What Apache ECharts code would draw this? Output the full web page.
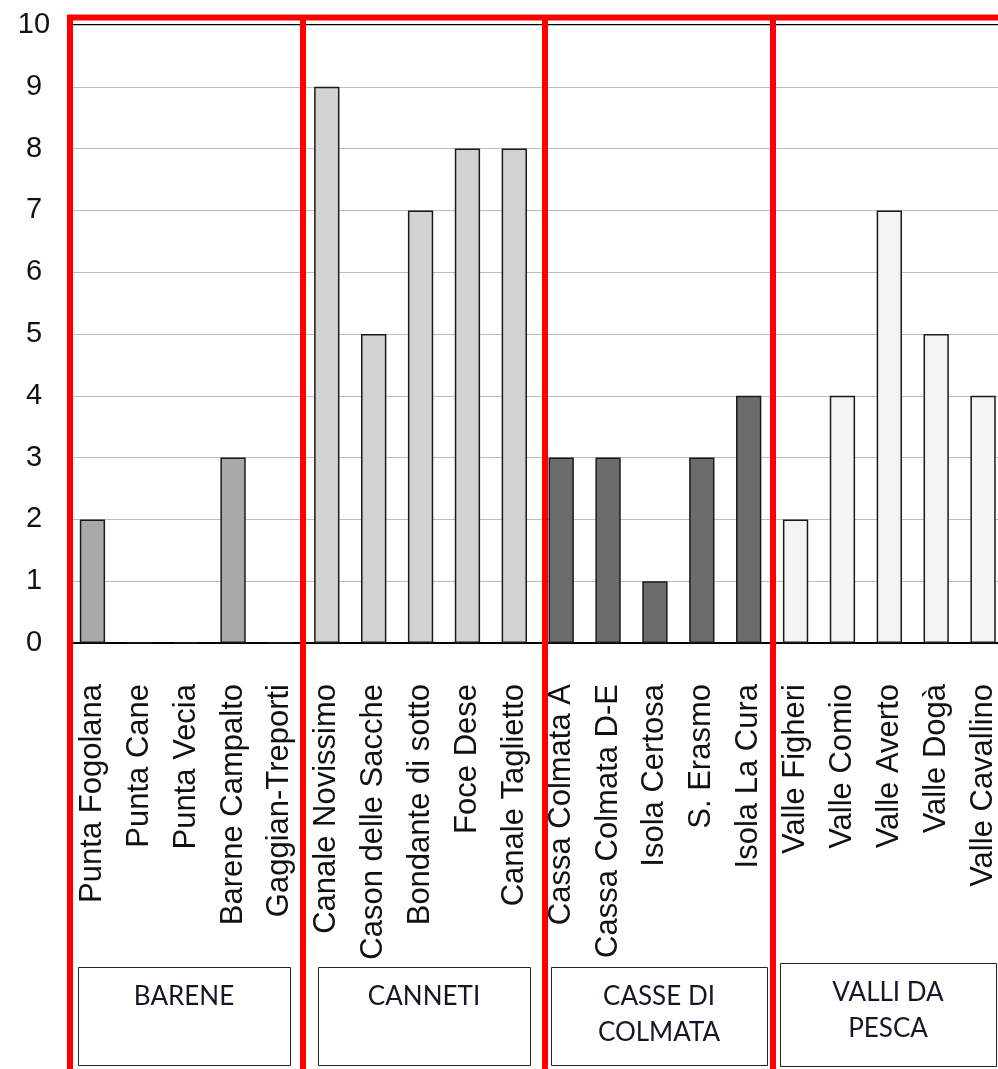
<!DOCTYPE html>
<html>
<head>
<meta charset="utf-8">
<script src="https://cdn.jsdelivr.net/npm/echarts/dist/echarts.min.js"></script>
<style>
html,body{margin:0;padding:0;background:#fff;}
#main{width:998px;height:1069px;}
</style>
</head>
<body>
<div id="main"></div>
<script>
// categorie (siti) per gruppo
var bareneSites = ['Punta Fogolana', 'Punta Cane', 'Punta Vecia', 'Barene Campalto', 'Gaggian-Treporti'];
var cannetiSites = ['Canale Novissimo', 'Cason delle Sacche', 'Bondante di sotto', 'Foce Dese', 'Canale Taglietto'];
var casseSites = ['Cassa Colmata A', 'Cassa Colmata D-E', 'Isola Certosa', 'S. Erasmo', 'Isola La Cura'];
var valliSites = ['Valle Figheri', 'Valle Comio', 'Valle Averto', 'Valle Dogà', 'Valle Cavallino'];

// valori
var bareneValues = [2, 0, 0, 3, 0];
var cannetiValues = [9, 5, 7, 8, 8];
var casseValues = [3, 3, 1, 3, 4];
var valliValues = [2, 4, 7, 5, 4];

var groupNames = ['BARENE', 'CANNETI', 'CASSE DI\nCOLMATA', 'VALLI DA\nPESCA'];
var yTicks = [0, 1, 2, 3, 4, 5, 6, 7, 8, 9, 10];

var groupColors = ['#a9a9a9', '#d2d2d2', '#6c6c6c', '#f4f4f4'];
var groups = [
  [bareneSites, bareneValues],
  [cannetiSites, cannetiValues],
  [casseSites, casseValues],
  [valliSites, valliValues]
];

var categories = [];
var barData = [];
groups.forEach(function (g, gi) {
  g[0].forEach(function (name, i) {
    categories.push(name);
    barData.push({
      value: g[1][i],
      itemStyle: { color: groupColors[gi] }
    });
  });
});

// riquadri dei gruppi e linee rosse (annotazioni)
var boxes = [[78, 967, 212, 98], [318, 967, 212, 98], [551, 967, 216, 98], [780, 963, 216, 103]];
var redX = [70, 303, 545, 773];

var graphics = [];
boxes.forEach(function (b, i) {
  graphics.push({
    type: 'rect',
    shape: { x: b[0] + 0.5, y: b[1] + 0.5, width: b[2], height: b[3] },
    style: { fill: '#fff', stroke: '#222', lineWidth: 1 },
    z: 10
  });
  var twoLines = groupNames[i].indexOf('\n') >= 0;
  graphics.push({
    type: 'text',
    x: b[0] + b[2] / 2,
    y: twoLines ? b[1] + 48 : b[1] + 30,
    style: {
      text: groupNames[i],
      fill: '#161628',
      font: '26px Lato',
      textAlign: 'center',
      textVerticalAlign: 'middle',
      lineHeight: 36
    },
    z: 11
  });
});
graphics.push({
  type: 'line',
  shape: { x1: 67, y1: 17.5, x2: 998, y2: 17.5 },
  style: { stroke: '#ff0000', lineWidth: 6 },
  z: 20
});
redX.forEach(function (x) {
  graphics.push({
    type: 'line',
    shape: { x1: x, y1: 15, x2: x, y2: 1069 },
    style: { stroke: '#ff0000', lineWidth: 6 },
    z: 20
  });
});

var myChart = echarts.init(document.getElementById('main'));
var option = {
  backgroundColor: '#fff',
  animation: false,
  grid: {
    left: 69,
    width: 937.5,
    top: 25,
    bottom: 426,
    outerBoundsMode: 'none',
    containLabel: false,
    show: true,
    borderColor: '#000',
    borderWidth: 2
  },
  xAxis: {
    type: 'category',
    data: categories,
    axisLine: { lineStyle: { color: '#000', width: 2 } },
    axisTick: { show: false },
    axisLabel: {
      interval: 0,
      rotate: 90,
      margin: 41,
      color: '#111',
      fontFamily: 'Liberation Sans',
      fontSize: 31
    }
  },
  yAxis: {
    type: 'value',
    min: 0,
    max: 10,
    interval: 1,
    axisLine: { show: false },
    axisTick: { show: false },
    axisLabel: {
      align: 'center',
      margin: 35,
      color: '#111',
      fontFamily: 'Liberation Sans',
      fontSize: 29,
      formatter: function (v) { return yTicks.indexOf(v) >= 0 ? String(v) : ''; }
    },
    splitLine: { lineStyle: { color: '#bdbdbd', width: 1 } }
  },
  series: [{
    type: 'bar',
    data: barData,
    barWidth: '54%',
    itemStyle: { borderColor: '#1a1a1a', borderWidth: 1.5 }
  }],
  graphic: graphics
};
myChart.setOption(option);
</script>
</body>
</html>
